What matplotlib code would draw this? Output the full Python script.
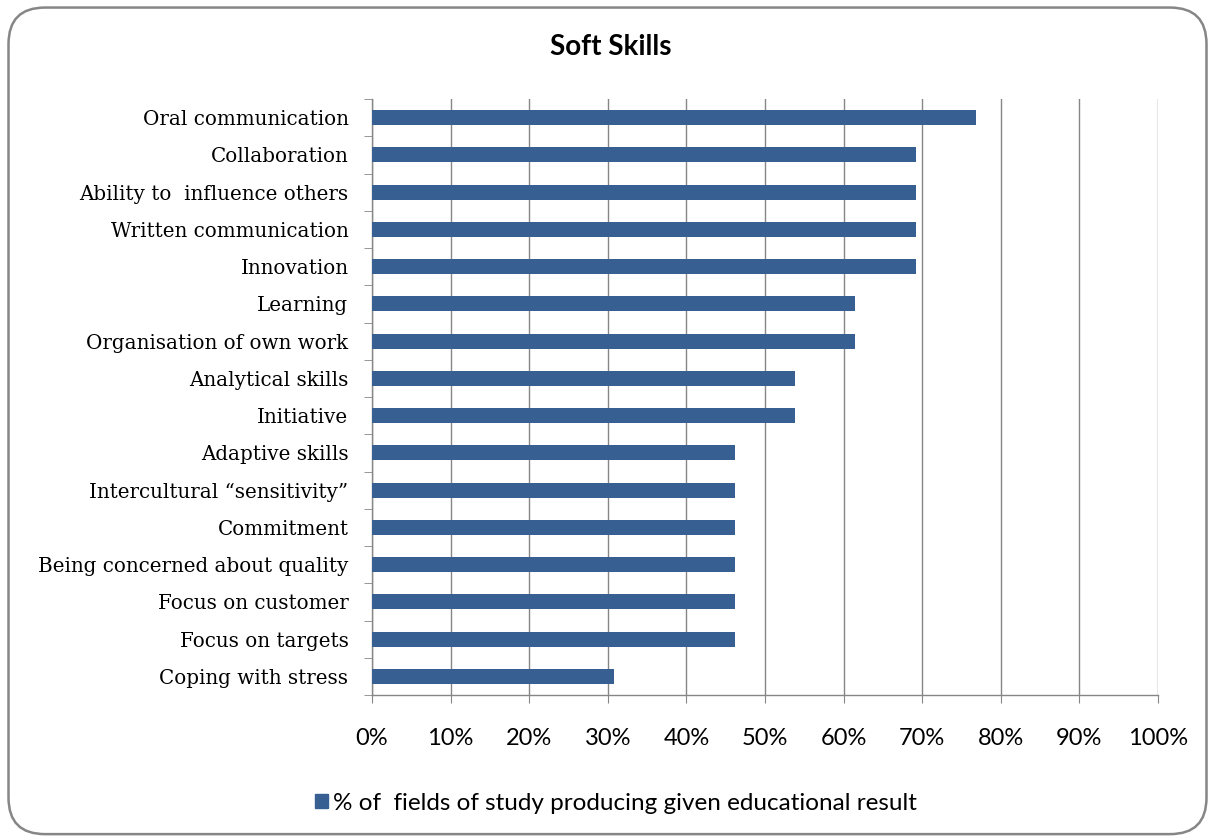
import matplotlib
matplotlib.use("Agg")
import matplotlib.pyplot as plt
from matplotlib.patches import FancyBboxPatch, Patch

# values (share of fields of study, %)
skills = ["Oral communication", "Collaboration", "Ability to  influence others",
          "Written communication", "Innovation", "Learning",
          "Organisation of own work", "Analytical skills", "Initiative",
          "Adaptive skills", "Intercultural \u201csensitivity\u201d", "Commitment",
          "Being concerned about quality", "Focus on customer",
          "Focus on targets", "Coping with stress"]
shares = [76.9, 69.2, 69.2, 69.2, 69.2, 61.5, 61.5, 53.8, 53.8,
          46.2, 46.2, 46.2, 46.2, 46.2, 46.2, 30.8]
xticks = list(range(0, 101, 10))
legend_label = "% of  fields of study producing given educational result"

bar_color = "#375F91"
grey = "#868686"

fig = plt.figure(figsize=(12.15, 8.4), dpi=100)

# rounded chart frame
frame = FancyBboxPatch((0.007, 0.007), 0.986, 0.984,
                       boxstyle="round,pad=0,rounding_size=0.03",
                       transform=fig.transFigure, fill=False,
                       edgecolor=grey, linewidth=1.8, mutation_aspect=1215/840)
fig.patches.append(frame)

ax = fig.add_axes([372/1215, 1 - 695/840, (1158 - 372)/1215, (695 - 99)/840])

ypos = list(range(len(skills)))
ax.barh(ypos, shares, height=0.4, color=bar_color, zorder=3)
ax.set_ylim(len(skills) - 0.5, -0.5)
ax.set_xlim(0, 100)

ax.set_xticks(xticks)
ax.set_xticklabels([f"{v}%" for v in xticks], fontfamily="Lato", fontsize=17)
ax.set_yticks(ypos)
ax.set_yticklabels(skills, fontfamily="DejaVu Serif", fontsize=14.3)
ax.set_yticks([i - 0.5 for i in range(len(skills) + 1)], minor=True)

ax.tick_params(axis="y", which="major", length=0, pad=17)
ax.tick_params(axis="y", which="minor", length=6, color=grey, direction="out")
ax.tick_params(axis="x", length=6, color=grey, direction="out", pad=18)

ax.grid(axis="x", color=grey, linewidth=1, zorder=0)
for s in ["top", "right"]:
    ax.spines[s].set_visible(False)
for s in ["left", "bottom"]:
    ax.spines[s].set_color(grey)
    ax.spines[s].set_linewidth(1)

fig.text(0.503, 1 - 47/840, "Soft Skills", ha="center", va="center",
         fontfamily="Lato", fontweight="bold", fontsize=20)

fig.legend(handles=[Patch(color=bar_color, label=legend_label)],
           loc="center", bbox_to_anchor=(0.507, 1 - 803/840), frameon=False,
           prop={"family": "Lato", "size": 17.5}, handlelength=0.55,
           handleheight=0.55, handletextpad=0.2)

fig.savefig("out.png", dpi=100)
